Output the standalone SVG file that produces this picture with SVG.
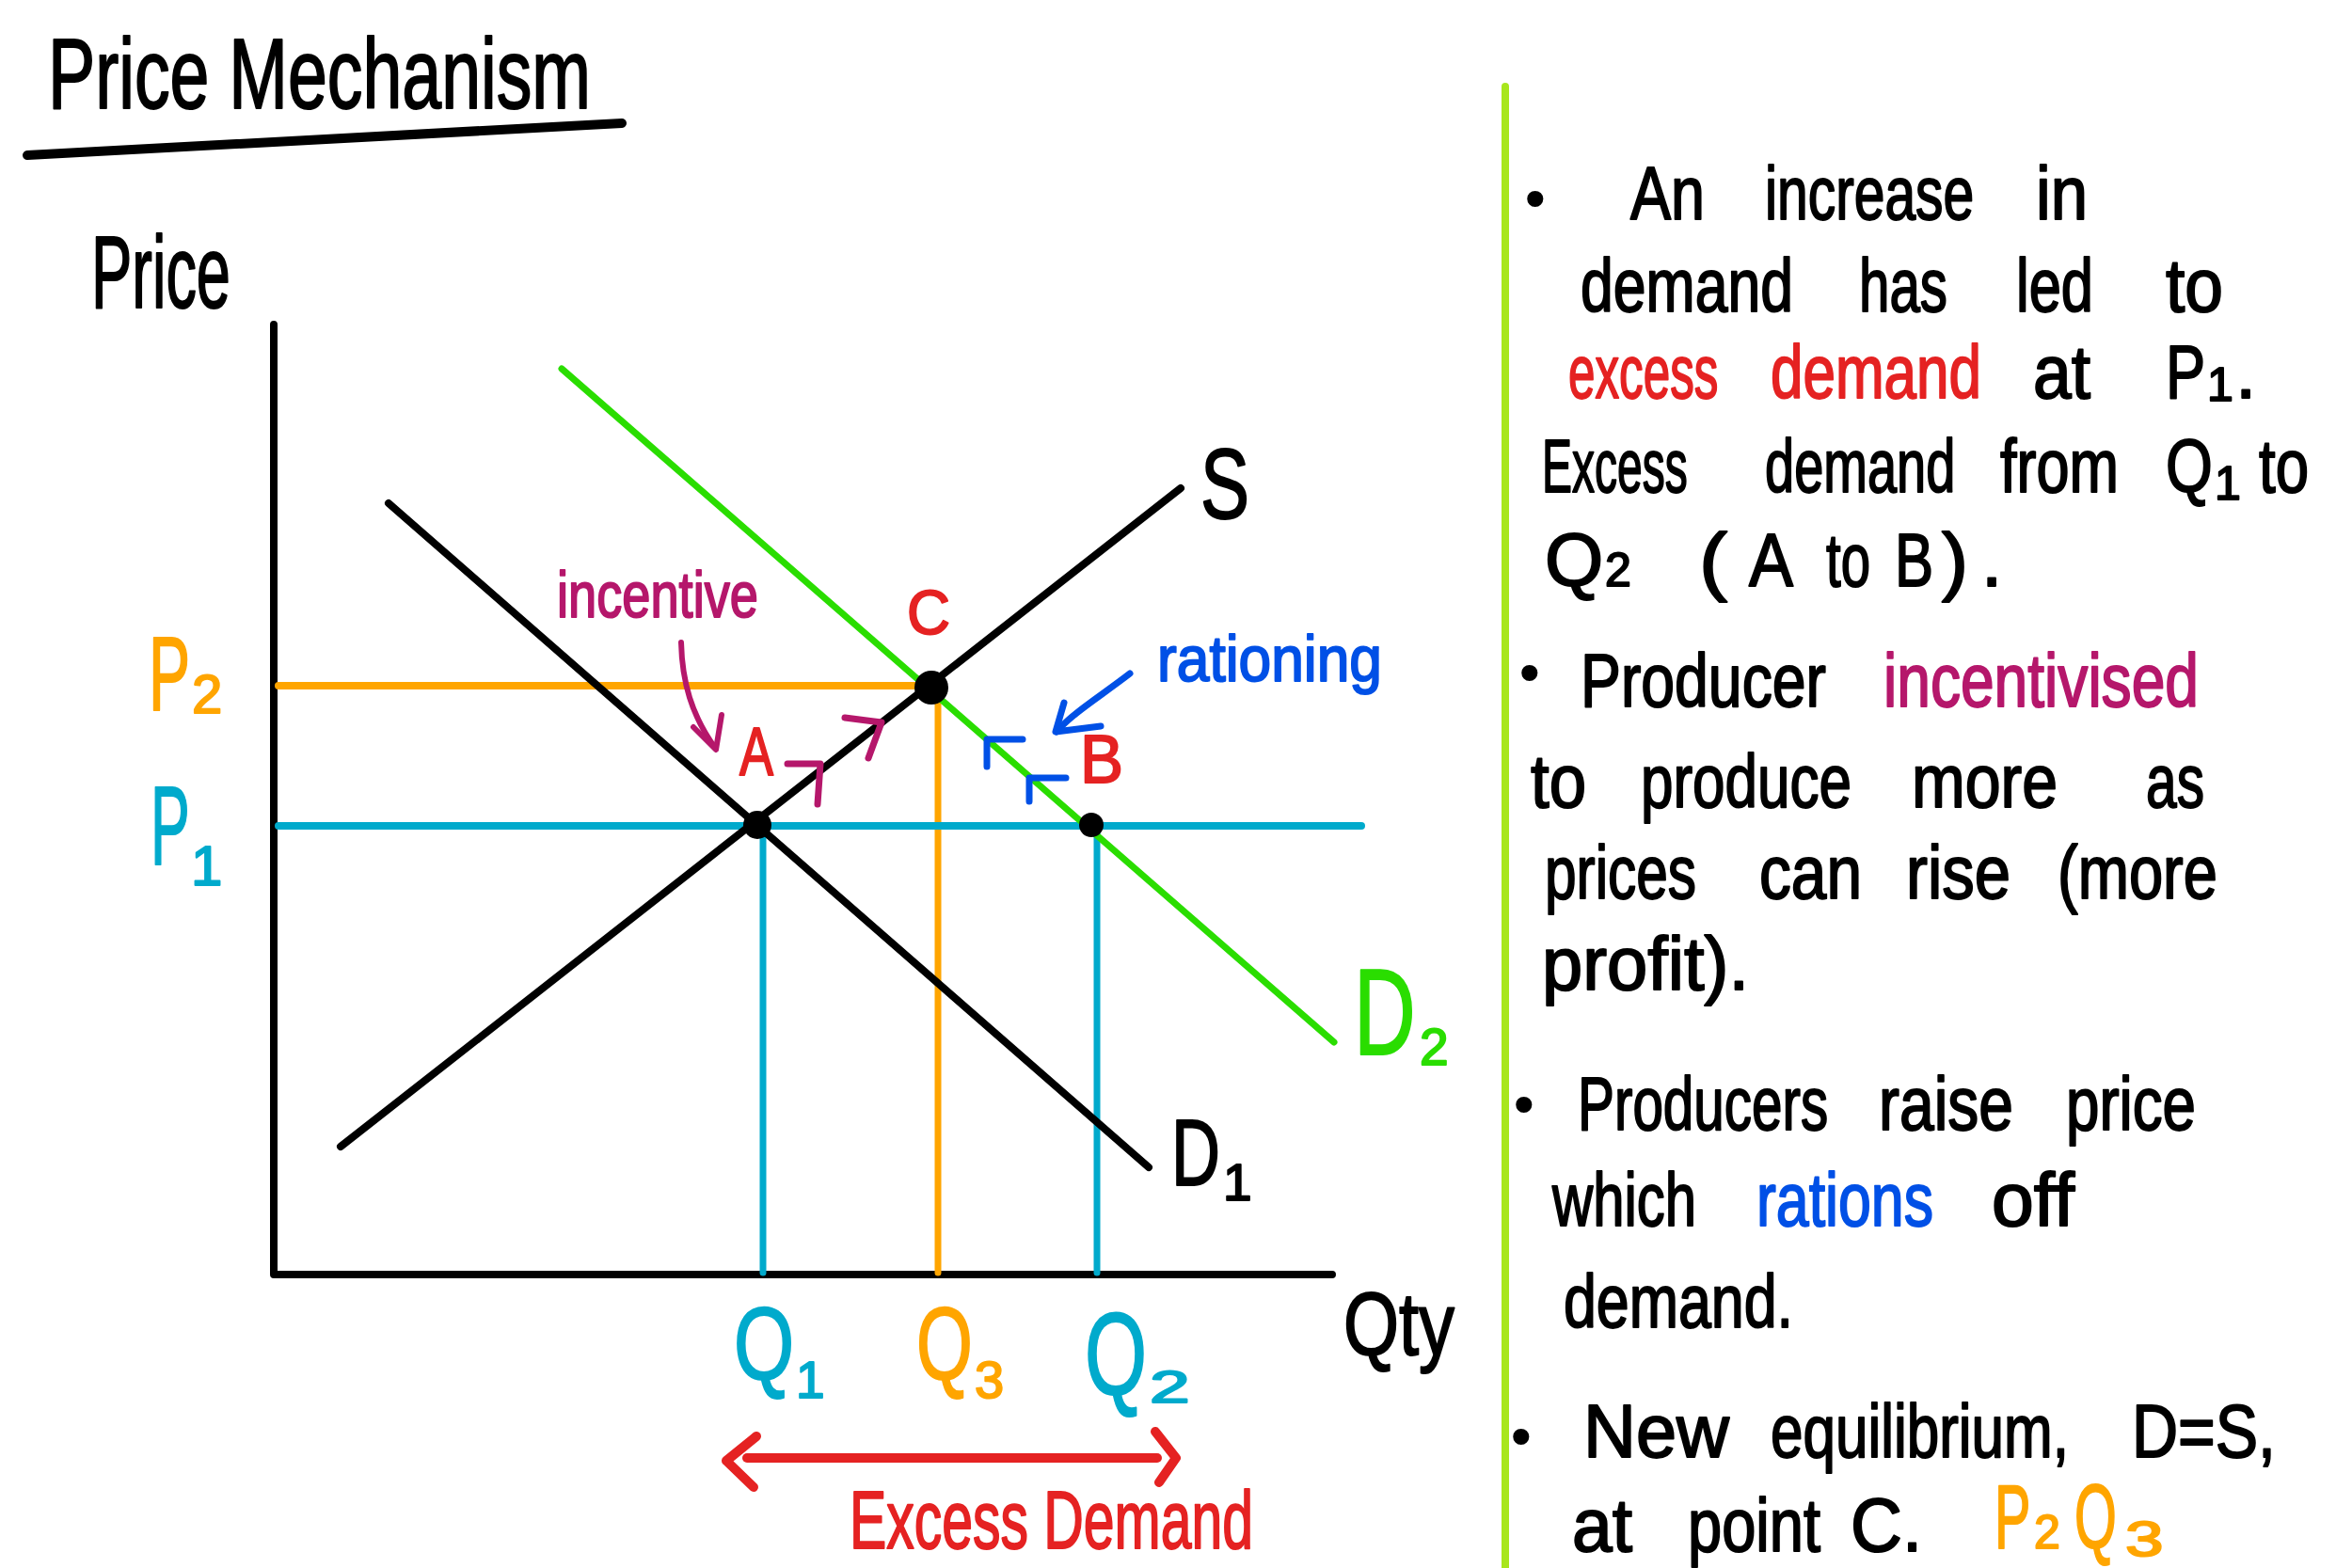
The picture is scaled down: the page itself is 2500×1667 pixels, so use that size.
<svg xmlns="http://www.w3.org/2000/svg" width="2500" height="1667" viewBox="0 0 2500 1667">
<style>
text{font-family:"Liberation Sans",Arial,sans-serif;stroke-width:2px;stroke-linejoin:round;}
.t{font-size:80px;fill:#000;}
.s{font-size:50px;}
.bul{font-size:56px;}
.red{fill:#E52222;stroke:#E52222;}
.mag{fill:#B5176B;stroke:#B5176B;}
.blu{fill:#0050E6;stroke:#0050E6;}
.org{fill:#FFA500;stroke:#FFA500;}
.cyn{fill:#00AACC;stroke:#00AACC;}
.grn{fill:#2ADD00;stroke:#2ADD00;}
.ln{fill:none;stroke-linecap:round;stroke-linejoin:round;}
</style>
<rect width="2500" height="1667" fill="#fff"/>
<g id="title" stroke="#000">
<text x="51" y="115" font-size="105" textLength="577" lengthAdjust="spacingAndGlyphs">Price Mechanism</text>
<line class="ln" x1="29" y1="165" x2="661" y2="131" stroke="#000" stroke-width="10"/>
</g>
<line id="divider" class="ln" x1="1600" y1="92" x2="1600" y2="1667" stroke="#A8E61D" stroke-width="8"/>
<g id="axes" stroke="#000">
<polyline class="ln" points="291,345 291,1355 1416,1355" stroke="#000" stroke-width="8"/>
<text x="97" y="327" font-size="110" textLength="148" lengthAdjust="spacingAndGlyphs">Price</text>
<text x="1428" y="1440" font-size="95" textLength="118" lengthAdjust="spacingAndGlyphs">Qty</text>
</g>
<g id="connectors">
<line class="ln" x1="296" y1="729" x2="990" y2="729" stroke="#FFA500" stroke-width="8"/>
<line class="ln" x1="997" y1="729" x2="997" y2="1353" stroke="#FFA500" stroke-width="7"/>
<line class="ln" x1="296" y1="878" x2="1447" y2="878" stroke="#00AACC" stroke-width="8"/>
<line class="ln" x1="811" y1="878" x2="811" y2="1353" stroke="#00AACC" stroke-width="7"/>
<line class="ln" x1="1166" y1="878" x2="1166" y2="1353" stroke="#00AACC" stroke-width="7"/>
<line id="S" class="ln" x1="362" y1="1219" x2="1255" y2="519" stroke="#000" stroke-width="8"/>
<line id="D1" class="ln" x1="413" y1="535" x2="1221" y2="1241" stroke="#000" stroke-width="8"/>
<line id="D2" class="ln" x1="597" y1="392" x2="1418" y2="1108" stroke="#2ADD00" stroke-width="7"/>
<path class="ln" d="M724,683 C725,725 735,760 760,795" stroke="#B5176B" stroke-width="6"/>
<polyline class="ln" points="737,773 761,797 767,760" stroke="#B5176B" stroke-width="6"/>
<polyline class="ln" points="837,812 872,812 869,855" stroke="#B5176B" stroke-width="7"/>
<polyline class="ln" points="898,763 937,768 923,806" stroke="#B5176B" stroke-width="7"/>
<path class="ln" d="M1201,716 C1170,740 1140,758 1123,778" stroke="#0050E6" stroke-width="7"/>
<polyline class="ln" points="1131,747 1122,778 1170,772" stroke="#0050E6" stroke-width="7"/>
<polyline class="ln" points="1049,815 1049,786 1087,786" stroke="#0050E6" stroke-width="7"/>
<polyline class="ln" points="1094,852 1094,827 1133,827" stroke="#0050E6" stroke-width="7"/>
<line class="ln" x1="794" y1="1550" x2="1230" y2="1550" stroke="#E52222" stroke-width="10"/>
<polyline class="ln" points="804,1527 772,1553 801,1581" stroke="#E52222" stroke-width="10"/>
<polyline class="ln" points="1228,1522 1250,1550 1232,1576" stroke="#E52222" stroke-width="10"/>
</g>
<g id="points">
<circle cx="990" cy="731" r="18" fill="#000"/>
<circle cx="805" cy="877" r="15" fill="#000"/>
<circle cx="1160" cy="877" r="13" fill="#000"/>
</g>
<g id="curve-labels" stroke="#000">
<text x="1276" y="551" font-size="105" textLength="52" lengthAdjust="spacingAndGlyphs">S</text>
<text transform="translate(1245,1260) scale(0.72,1)" font-size="100">D</text>
<text x="1300" y="1276" font-size="55">1</text>
<g class="grn">
<text transform="translate(1439,1121) scale(0.70,1)" font-size="130">D</text>
<text x="1509" y="1132" font-size="55">2</text>
</g>
<g class="org">
<text transform="translate(158,755) scale(0.59,1)" font-size="112">P</text>
<text x="204" y="758" font-size="58">2</text>
</g>
<g class="cyn">
<text transform="translate(160,919) scale(0.53,1)" font-size="118">P</text>
<text x="203" y="941" font-size="60">1</text>
</g>
<g class="cyn">
<text transform="translate(780,1466) scale(0.75,1)" font-size="110">Q</text>
<text x="846" y="1486" font-size="55">1</text>
</g>
<g class="org">
<text transform="translate(974,1466) scale(0.70,1)" font-size="110">Q</text>
<text x="1036" y="1486" font-size="56">3</text>
</g>
<g class="cyn">
<text transform="translate(1153,1482) scale(0.68,1)" font-size="125">Q</text>
<text transform="translate(1222,1491) scale(1.6,1)" font-size="48">2</text>
</g>
<text class="red" x="903" y="1646" font-size="88" textLength="429" lengthAdjust="spacingAndGlyphs">Excess Demand</text>
<text class="mag" x="592" y="656" font-size="68" textLength="214" lengthAdjust="spacingAndGlyphs">incentive</text>
<text class="blu" x="1230" y="724" font-size="68" textLength="239" lengthAdjust="spacingAndGlyphs">rationing</text>
<text class="red" x="786" y="824" font-size="72" textLength="36" lengthAdjust="spacingAndGlyphs">A</text>
<text class="red" x="964" y="674" font-size="66" textLength="46" lengthAdjust="spacingAndGlyphs">C</text>
<text class="red" x="1148" y="832" font-size="72" textLength="46" lengthAdjust="spacingAndGlyphs">B</text>
</g>
<g id="notes" class="t" stroke="#000">
<text class="bul" x="1622" y="230">•</text>
<text x="1733" y="233" textLength="79" lengthAdjust="spacingAndGlyphs">An</text>
<text transform="translate(1876,233) scale(0.735,1)">increase</text>
<text x="2164" y="233" textLength="55" lengthAdjust="spacingAndGlyphs">in</text>

<text x="1680" y="331" textLength="226" lengthAdjust="spacingAndGlyphs">demand</text>
<text x="1976" y="331" textLength="94" lengthAdjust="spacingAndGlyphs">has</text>
<text x="2143" y="331" textLength="82" lengthAdjust="spacingAndGlyphs">led</text>
<text x="2302" y="331" textLength="61" lengthAdjust="spacingAndGlyphs">to</text>

<text class="red" transform="translate(1667,423) scale(0.64,1)">excess</text>
<text class="red" transform="translate(1882,423) scale(0.775,1)">demand</text>
<text x="2161" y="423" textLength="61" lengthAdjust="spacingAndGlyphs">at</text>
<text transform="translate(2302,423) scale(0.79,1)">P</text>
<text class="s" x="2346" y="426">1</text>
<text x="2376" y="423">.</text>

<text transform="translate(1639,523) scale(0.6,1)">Excess</text>
<text transform="translate(1876,523) scale(0.70,1)">demand</text>
<text x="2126" y="523" textLength="126" lengthAdjust="spacingAndGlyphs">from</text>
<text transform="translate(2302,523) scale(0.8,1)">Q</text>
<text class="s" x="2354" y="531">1</text>
<text x="2401" y="523" textLength="53" lengthAdjust="spacingAndGlyphs">to</text>

<text x="1642" y="623">Q</text>
<text class="s" x="1706" y="623">2</text>
<text x="1806" y="623" textLength="30" lengthAdjust="spacingAndGlyphs">(</text>
<text x="1859" y="623" textLength="47" lengthAdjust="spacingAndGlyphs">A</text>
<text x="1941" y="623" textLength="47" lengthAdjust="spacingAndGlyphs">to</text>
<text transform="translate(2014,623) scale(0.77,1)">B</text>
<text x="2064" y="623" textLength="28" lengthAdjust="spacingAndGlyphs">)</text>
<text x="2106" y="623">.</text>

<text class="bul" x="1616" y="734">•</text>
<text x="1680" y="751" textLength="261" lengthAdjust="spacingAndGlyphs">Producer</text>
<text class="mag" x="2002" y="751" textLength="335" lengthAdjust="spacingAndGlyphs">incentivised</text>

<text x="1627" y="858" textLength="59" lengthAdjust="spacingAndGlyphs">to</text>
<text transform="translate(1744,858) scale(0.775,1)">produce</text>
<text x="2032" y="858" textLength="155" lengthAdjust="spacingAndGlyphs">more</text>
<text x="2281" y="858" textLength="62" lengthAdjust="spacingAndGlyphs">as</text>

<text x="1642" y="955" textLength="161" lengthAdjust="spacingAndGlyphs">prices</text>
<text x="1870" y="955" textLength="109" lengthAdjust="spacingAndGlyphs">can</text>
<text x="2026" y="955" textLength="111" lengthAdjust="spacingAndGlyphs">rise</text>
<text x="2187" y="955" textLength="170" lengthAdjust="spacingAndGlyphs">(more</text>

<text x="1639" y="1052" textLength="220" lengthAdjust="spacingAndGlyphs">profit).</text>

<text class="bul" x="1610" y="1193">•</text>
<text transform="translate(1677,1201) scale(0.73,1)">Producers</text>
<text x="1997" y="1201" textLength="143" lengthAdjust="spacingAndGlyphs">raise</text>
<text x="2196" y="1201" textLength="138" lengthAdjust="spacingAndGlyphs">price</text>

<text x="1650" y="1303" textLength="153" lengthAdjust="spacingAndGlyphs">which</text>
<text class="blu" x="1867" y="1303" textLength="188" lengthAdjust="spacingAndGlyphs">rations</text>
<text x="2117" y="1303" textLength="88" lengthAdjust="spacingAndGlyphs">off</text>

<text x="1662" y="1411" textLength="244" lengthAdjust="spacingAndGlyphs">demand.</text>

<text class="bul" x="1607" y="1546">•</text>
<text x="1683" y="1549" textLength="155" lengthAdjust="spacingAndGlyphs">New</text>
<text transform="translate(1882,1549) scale(0.775,1)">equilibrium,</text>
<text x="2266" y="1549" textLength="153" lengthAdjust="spacingAndGlyphs">D=S,</text>

<text x="1671" y="1649" textLength="64" lengthAdjust="spacingAndGlyphs">at</text>
<text x="1794" y="1649" textLength="141" lengthAdjust="spacingAndGlyphs">point</text>
<text x="1967" y="1649" textLength="76" lengthAdjust="spacingAndGlyphs">C.</text>
<g class="org">
<text transform="translate(2120,1646) scale(0.6,1)" font-size="96">P</text>
<text class="s" x="2162" y="1646">2</text>
<text transform="translate(2205,1646) scale(0.6,1)" font-size="96">Q</text>
<text transform="translate(2259,1654) scale(1.4,1)" font-size="52">3</text>
</g>
</g>
</svg>
